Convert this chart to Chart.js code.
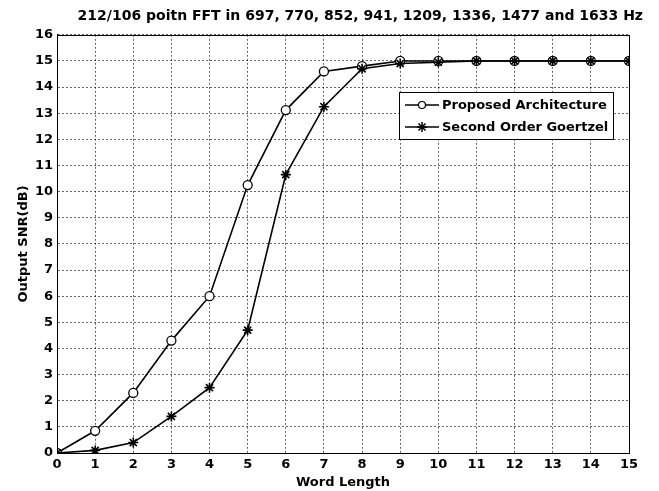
<!DOCTYPE html>
<html>
<head>
<meta charset="utf-8">
<script src="https://cdn.jsdelivr.net/npm/chart.js@4.4.1/dist/chart.umd.min.js"></script>
<style>
  html, body { margin: 0; padding: 0; background: #fff; }
  #wrap { width: 659px; height: 491px; }
</style>
</head>
<body>
<div id="wrap"><canvas id="c" width="659" height="491"></canvas></div>
<script>
// 資料
var wordLength = [0, 1, 2, 3, 4, 5, 6, 7, 8, 9, 10, 11, 12, 13, 14, 15];
var proposed = [0, 0.85, 2.3, 4.3, 6.0, 10.25, 13.12, 14.6, 14.8, 15.0, 15.0, 15.0, 15.0, 15.0, 15.0, 15.0];
var goertzel = [0, 0.1, 0.4, 1.4, 2.5, 4.7, 10.65, 13.25, 14.7, 14.9, 14.95, 15.0, 15.0, 15.0, 15.0, 15.0];
var xTicks = [0, 1, 2, 3, 4, 5, 6, 7, 8, 9, 10, 11, 12, 13, 14, 15];
var yTicks = [0, 1, 2, 3, 4, 5, 6, 7, 8, 9, 10, 11, 12, 13, 14, 15, 16];

var FONT = "'DejaVu Sans', 'Liberation Sans', Arial, sans-serif";

function toPoints(xs, ys) {
  return xs.map(function (x, i) { return { x: x, y: ys[i] }; });
}

// 標題靠右 (MATLAB 的位置)
var titleShift = {
  id: 'titleShift',
  afterLayout: function (chart) {
    if (chart.titleBlock) { chart.titleBlock.right = 643; }
  }
};

// 外框 + 圖例
var frameLegend = {
  id: 'frameLegend',
  afterDatasetsDraw: function (chart) {
    var ctx = chart.ctx, a = chart.chartArea;
    ctx.save();
    ctx.strokeStyle = '#000';
    ctx.lineWidth = 1;
    ctx.strokeRect(Math.round(a.left) + 0.5, Math.round(a.top) + 0.5,
      Math.round(a.right - a.left), Math.round(a.bottom - a.top));

    // legend box
    var bx = 399, by = 92, bw = 214, bh = 47;
    ctx.fillStyle = '#fff';
    ctx.fillRect(bx, by, bw, bh);
    ctx.strokeRect(bx + 0.5, by + 0.5, bw, bh);
    ctx.font = 'bold 13px ' + FONT;
    ctx.textBaseline = 'middle';
    chart.data.datasets.forEach(function (ds, i) {
      var y = by + 13 + i * 22;
      var mx = bx + 23;
      ctx.strokeStyle = '#000';
      ctx.lineWidth = 1.5;
      ctx.beginPath();
      ctx.moveTo(bx + 6, y);
      ctx.lineTo(bx + 40, y);
      ctx.stroke();
      if (ds.pointStyle === 'circle') {
        ctx.fillStyle = '#fff';
        ctx.lineWidth = 1.2;
        ctx.beginPath();
        ctx.arc(mx, y, 3.5, 0, Math.PI * 2);
        ctx.fill();
        ctx.stroke();
      } else {
        Chart.helpers.drawPoint(ctx, { pointStyle: ds.pointStyle, radius: 5, borderWidth: 1.5, rotation: 0 }, mx, y);
      }
      ctx.fillStyle = '#000';
      ctx.fillText(ds.label, bx + 43, y + 1);
    });
    ctx.restore();
  }
};

var tickFont = { family: FONT, size: 13, weight: 'bold' };

var ctx = document.getElementById('c').getContext('2d');
new Chart(ctx, {
  type: 'line',
  data: {
    datasets: [{
      label: 'Proposed Architecture',
      data: toPoints(wordLength, proposed),
      order: 1,
      borderColor: '#000',
      borderWidth: 1.6,
      pointStyle: 'circle',
      pointRadius: 4.5,
      pointBorderWidth: 1.3,
      pointBackgroundColor: '#fff',
      pointBorderColor: '#000',
      tension: 0
    }, {
      label: 'Second Order Goertzel',
      data: toPoints(wordLength, goertzel),
      order: 0,
      borderColor: '#000',
      borderWidth: 1.6,
      pointStyle: 'star',
      pointRadius: 5,
      pointBorderWidth: 1.6,
      pointBackgroundColor: '#000',
      pointBorderColor: '#000',
      tension: 0
    }]
  },
  options: {
    responsive: false,
    animation: false,
    devicePixelRatio: 1,
    layout: { padding: { left: 0, right: 30, top: 0, bottom: 0 } },
    plugins: {
      legend: { display: false },
      tooltip: { enabled: false },
      title: {
        display: true,
        align: 'end',
        text: '212/106 poitn FFT in 697, 770, 852, 941, 1209, 1336, 1477 and 1633 Hz',
        color: '#000',
        font: { family: FONT, size: 14, weight: 'bold' },
        padding: { top: 7.5, bottom: 10.5 }
      }
    },
    scales: {
      x: {
        type: 'linear',
        min: 0, max: 15,
        afterBuildTicks: function (s) { s.ticks = xTicks.map(function (v) { return { value: v }; }); },
        afterFit: function (s) { s.height = 38; },
        ticks: { color: '#000', font: tickFont, padding: 4, maxRotation: 0 },
        grid: { color: 'rgba(0,0,0,0.6)', lineWidth: 1, drawTicks: false },
        border: { color: '#000', width: 1, dash: [2, 2] },
        title: {
          display: true, text: 'Word Length', color: '#000',
          font: tickFont, padding: { top: 0, bottom: 1 }
        }
      },
      y: {
        type: 'linear',
        min: 0, max: 16,
        afterBuildTicks: function (s) { s.ticks = yTicks.map(function (v) { return { value: v }; }); },
        afterFit: function (s) { s.width = 57; },
        ticks: { color: '#000', font: tickFont, padding: 4 },
        grid: { color: 'rgba(0,0,0,0.6)', lineWidth: 1, drawTicks: false },
        border: { color: '#000', width: 1, dash: [2, 2] },
        title: {
          display: true, text: 'Output SNR(dB)', color: '#000',
          font: tickFont, padding: { top: 16, bottom: 0 }
        }
      }
    }
  },
  plugins: [titleShift, frameLegend]
});
</script>
</body>
</html>
